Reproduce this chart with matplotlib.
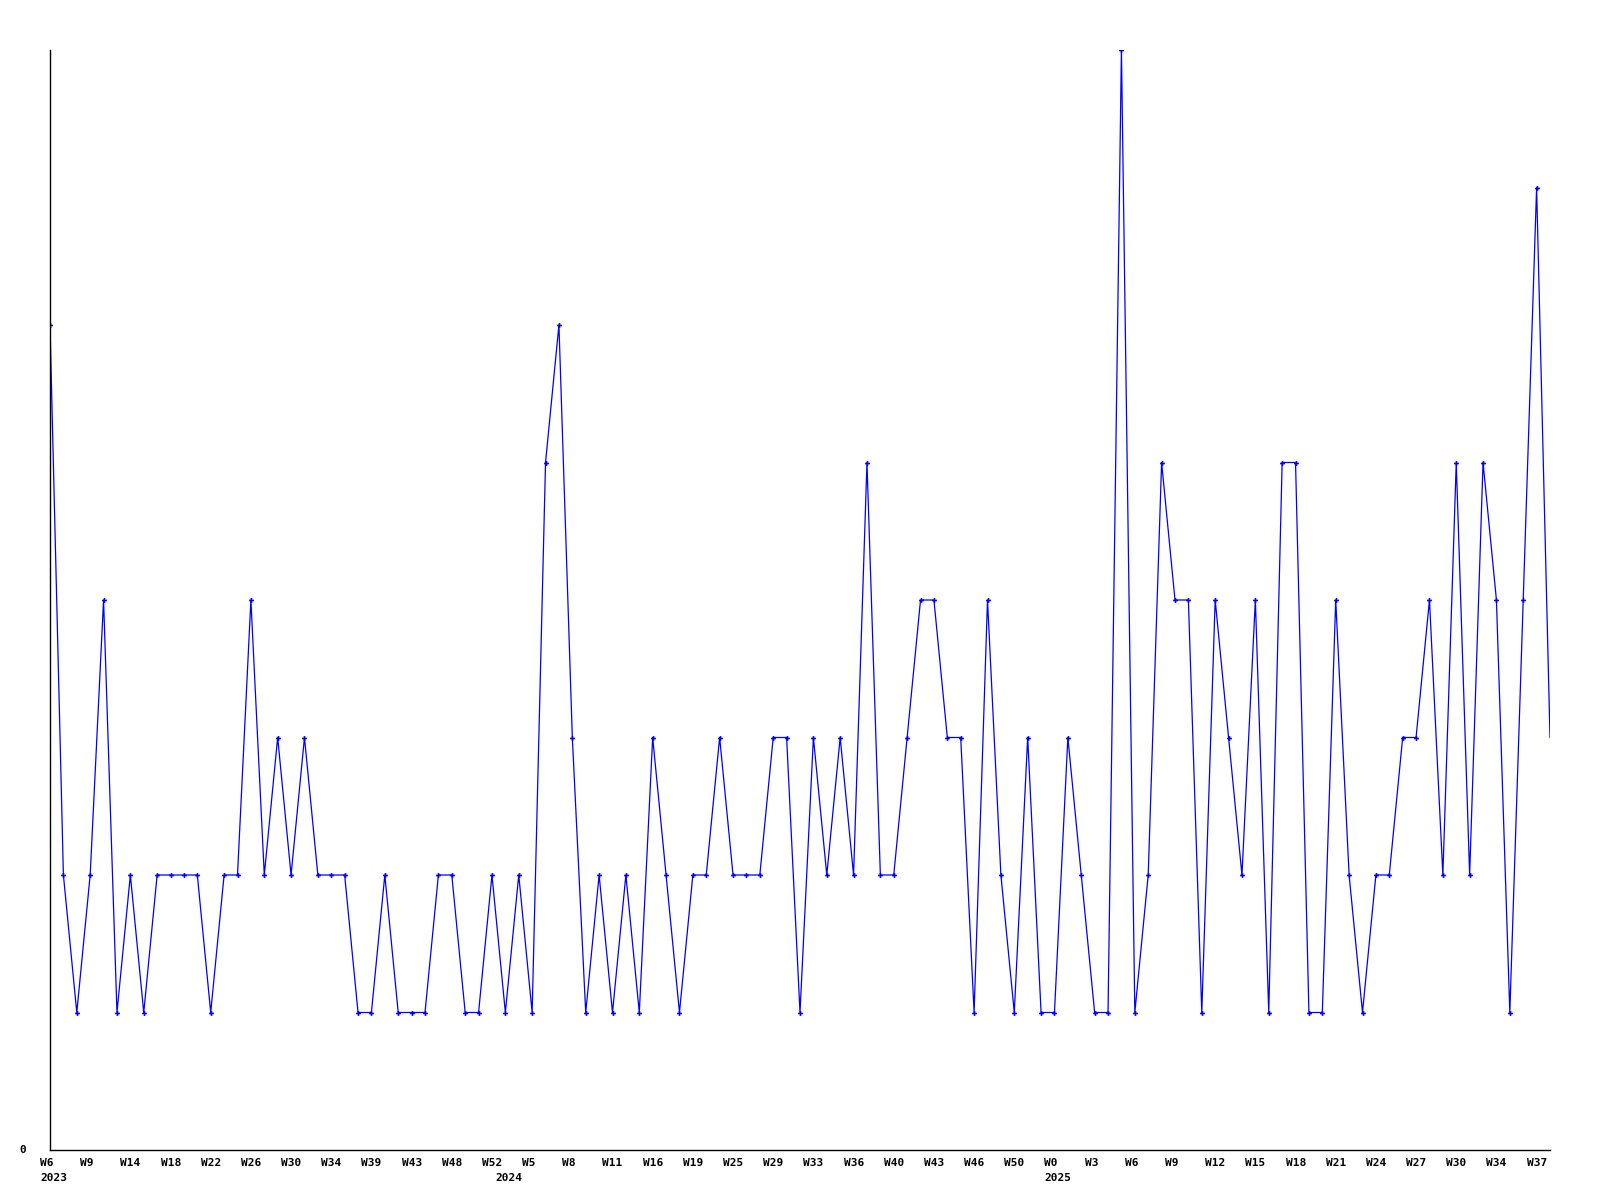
import matplotlib
matplotlib.use('Agg')
import matplotlib.pyplot as plt
import matplotlib.transforms as mtransforms

# weekly counts, one per week
values = [6, 2, 1, 2, 4, 1, 2, 1, 2, 2,
          2, 2, 1, 2, 2, 4, 2, 3, 2, 3,
          2, 2, 2, 1, 1, 2, 1, 1, 1, 2,
          2, 1, 1, 2, 1, 2, 1, 5, 6, 3,
          1, 2, 1, 2, 1, 3, 2, 1, 2, 2,
          3, 2, 2, 2, 3, 3, 1, 3, 2, 3,
          2, 5, 2, 2, 3, 4, 4, 3, 3, 1,
          4, 2, 1, 3, 1, 1, 3, 2, 1, 1,
          8, 1, 2, 5, 4, 4, 1, 4, 3, 2,
          4, 1, 5, 5, 1, 1, 4, 2, 1, 2,
          2, 3, 3, 4, 2, 5, 2, 5, 4, 1,
          4, 7, 3]

week_labels = ['W6', 'W9', 'W14', 'W18', 'W22', 'W26', 'W30', 'W34', 'W39',
               'W43', 'W48', 'W52', 'W5', 'W8', 'W11', 'W16', 'W19', 'W25',
               'W29', 'W33', 'W36', 'W40', 'W43', 'W46', 'W50', 'W0', 'W3',
               'W6', 'W9', 'W12', 'W15', 'W18', 'W21', 'W24', 'W27', 'W30',
               'W34', 'W37']
label_step = 3

year_labels = ['2023', '2024', '2025']
year_index = [0, 34, 75]

x = list(range(len(values)))

fig = plt.figure(figsize=(16, 12), dpi=100)
ax = fig.add_axes([50 / 1600, 50 / 1200, 1500 / 1600, 1100 / 1200])

ax.plot(x, values, color='#0000ff', linewidth=0.9)
ax.plot(x[:-1], values[:-1], linestyle='none', marker='P', markersize=3.5,
        color='#0000ff', markeredgewidth=0)

ax.set_xlim(0, len(values) - 1)
ax.set_ylim(0, max(values))

for s in ['top', 'right']:
    ax.spines[s].set_visible(False)
for s in ['left', 'bottom']:
    ax.spines[s].set_linewidth(1.0)
    ax.spines[s].set_color('black')

ax.set_xticks([])
ax.set_yticks([])

font = dict(family='DejaVu Sans Mono', fontweight='bold', fontsize=8)

off1 = mtransforms.ScaledTranslation(-10 / 100, -8 / 100, fig.dpi_scale_trans)
off2 = mtransforms.ScaledTranslation(-10 / 100, -23 / 100, fig.dpi_scale_trans)
trans = ax.get_xaxis_transform()

for i, lab in enumerate(week_labels):
    ax.text(i * label_step, 0, lab, transform=trans + off1,
            ha='left', va='top', **font)

for idx, lab in zip(year_index, year_labels):
    ax.text(idx, 0, lab, transform=trans + off2,
            ha='left', va='top', **font)

# y axis only shows the zero mark
off0 = mtransforms.ScaledTranslation(-24 / 100, 0, fig.dpi_scale_trans)
ax.text(0, 0, '0', transform=ax.transData + off0, ha='right', va='center', **font)

fig.savefig('out.png', dpi=100)
